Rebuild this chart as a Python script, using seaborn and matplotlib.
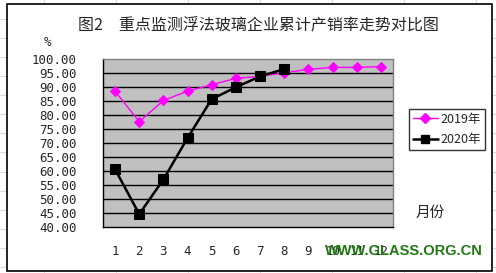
import matplotlib
matplotlib.use("Agg")
import matplotlib.pyplot as plt
from matplotlib.patches import Rectangle
from matplotlib.lines import Line2D
import seaborn as sns
import pandas as pd
import numpy as np

sns.set_theme(style="white")
plt.rcParams['font.family'] = ['Noto Sans CJK SC', 'DejaVu Sans']

months = [1, 2, 3, 4, 5, 6, 7, 8, 9, 10, 11, 12]
month_labels = ["1", "2", "3", "4", "5", "6", "7", "8", "9", "10", "11", "12"]
rate_2019 = [88.5, 77.6, 85.2, 88.5, 90.8, 93.1, 93.8, 95.1, 96.3, 97.0, 97.0, 97.3]
months_2020 = [1, 2, 3, 4, 5, 6, 7, 8]
rate_2020 = [60.6, 44.6, 57.0, 71.8, 85.7, 89.9, 93.8, 96.4]
yticks = [40, 45, 50, 55, 60, 65, 70, 75, 80, 85, 90, 95, 100]

W, H = 496, 273
fig = plt.figure(figsize=(W / 100, H / 100), dpi=100)
fig.patch.set_facecolor("white")

# background spreadsheet grid
bg = fig.add_axes([0, 0, 1, 1])
bg.set_xlim(0, W)
bg.set_ylim(H, 0)
bg.axis("off")
for x in np.arange(44, W, 72):
    bg.plot([x, x], [0, H], color="#d6dbe4", lw=0.8)
for y in np.arange(267, 0, -19.1):
    bg.plot([0, W], [y, y], color="#d6dbe4", lw=0.8)
bg.add_patch(Rectangle((7, 4), 485, 267, facecolor="white", edgecolor="black", lw=1.2, zorder=5))

mono = "DejaVu Sans Mono"

ax = fig.add_axes([103 / W, 1 - 227 / H, 290 / W, 168 / H])
ax.set_zorder(10)
ax.set_facecolor("#c0c0c0")

df19 = pd.DataFrame({"month": months, "rate": rate_2019})
df20 = pd.DataFrame({"month": months_2020, "rate": rate_2020})
sns.lineplot(data=df19, x="month", y="rate", ax=ax, color="#ff00ff", lw=1.0,
             marker="D", markersize=5.5, markeredgecolor="#ff00ff", zorder=4)
sns.lineplot(data=df20, x="month", y="rate", ax=ax, color="black", lw=1.8,
             marker="s", markersize=6.5, markeredgecolor="black", zorder=5)

ax.set_xlim(0.5, 12.5)
ax.set_ylim(40, 100)
ax.set_yticks(yticks)
ax.set_yticklabels([f"{v:.2f}" for v in yticks], fontsize=9, family=mono)
ax.set_xticks(months)
ax.set_xticklabels(month_labels, fontsize=9, family=mono)
ax.set_xticks(np.arange(1.5, 12.5, 1), minor=True)
ax.tick_params(axis="y", length=0, pad=19)
ax.tick_params(axis="x", which="major", length=0, pad=13)
ax.tick_params(axis="x", which="minor", length=5, direction="in", color="black", width=1)
for v in yticks[1:-1]:
    ax.axhline(v, color="black", lw=1.0, zorder=1)
for s in ax.spines.values():
    s.set_color("#808080")
    s.set_linewidth(1.0)
ax.spines["left"].set_color("black")
ax.spines["bottom"].set_color("black")
ax.set_xlabel("")
ax.set_ylabel("")

handles = [
    Line2D([], [], color="#ff00ff", lw=1.0, marker="D", markersize=5),
    Line2D([], [], color="black", lw=1.8, marker="s", markersize=6),
]
leg = fig.legend(handles, ["2019年", "2020年"], loc="upper left",
                 bbox_to_anchor=(409 / W, 1 - 109 / H), fontsize=9,
                 frameon=True, fancybox=False, edgecolor="black",
                 handlelength=2.0, handletextpad=0.2, borderpad=0.3,
                 labelspacing=0.6, borderaxespad=0)
leg.get_frame().set_linewidth(1.0)
leg.set_zorder(20)

fig.text(78 / W, 1 - 25 / H, "图2　重点监测浮法玻璃企业累计产销率走势对比图",
         fontsize=11.5, ha="left", va="center", zorder=20)
fig.text(47 / W, 1 - 42 / H, "%", fontsize=9, ha="center", va="center",
         family=mono, zorder=20)
fig.text(430 / W, 1 - 213 / H, "月份", fontsize=10.5, ha="center", va="center", zorder=20)
fig.text(404 / W, 1 - 251 / H, "WWW.GLASS.ORG.CN", fontsize=10.5, ha="center",
         va="center", color="#1f7a12", fontweight="bold",
         family="Liberation Sans", zorder=30)

fig.savefig("out.png", dpi=100)
